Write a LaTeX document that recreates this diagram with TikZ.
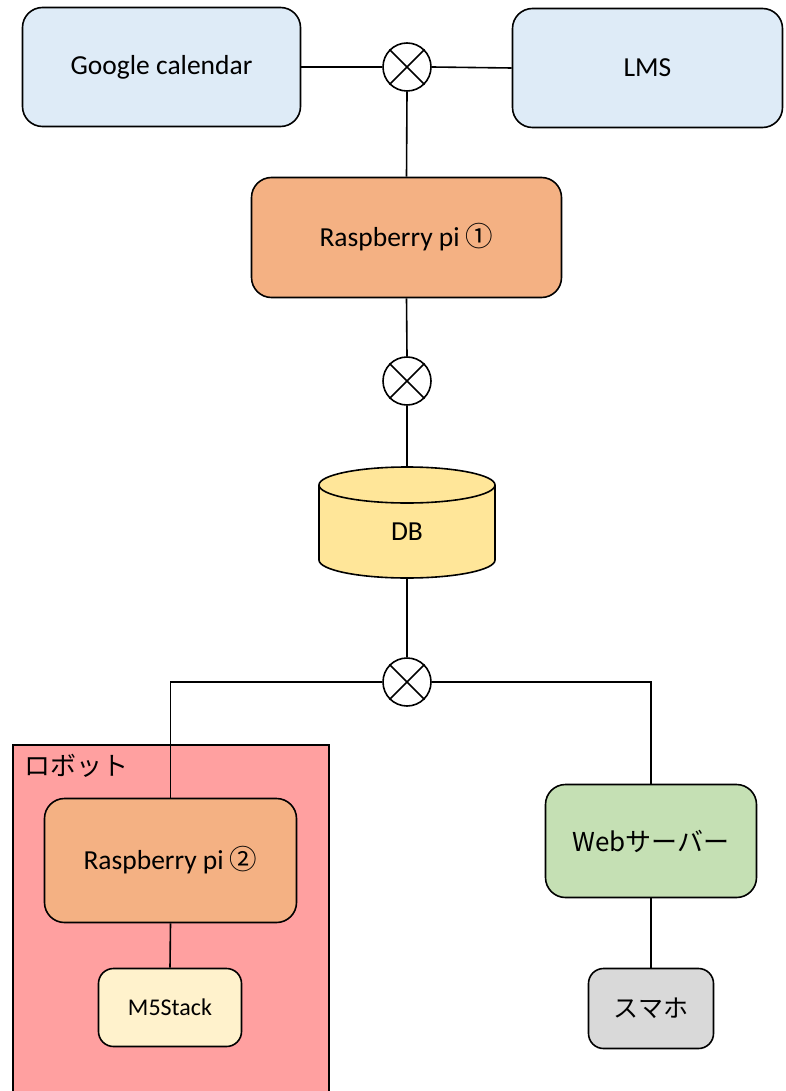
\documentclass[tikz,border=0pt]{standalone}
\usepackage{fontspec}
\setmainfont{Carlito}
\newfontfamily\cjk{Noto Sans CJK JP}
\definecolor{bluec}{HTML}{DEEBF7}
\definecolor{orangec}{HTML}{F4B183}
\definecolor{dbc}{HTML}{FFE699}
\definecolor{robotc}{HTML}{FFA0A0}
\definecolor{greenc}{HTML}{C5E0B4}
\definecolor{m5c}{HTML}{FFF2CC}
\definecolor{grayc}{HTML}{D9D9D9}
\begin{document}
\begin{tikzpicture}[x=1pt,y=-1pt,line width=1.6pt,
  box/.style={draw, rounded corners=20pt, inner sep=0pt, font=\fontsize{27.5}{33}\selectfont},
  smallbox/.style={draw, rounded corners=15pt, inner sep=0pt},
  junc/.style={draw, circle, fill=white, minimum size=48pt, inner sep=0pt},
  txt/.style={inner sep=0pt, font=\fontsize{27.5}{33}\selectfont}]
\useasboundingbox (0,0) rectangle (785,1091);
% robot group
\node[draw, fill=robotc, minimum width=316pt, minimum height=356pt, anchor=north west, inner sep=0pt] (robot) at (12,744) {};
\node[anchor=west, inner sep=0pt, font=\cjk\fontsize{26}{30}\selectfont] (robotlabel) at (24,766) {ロボット};
% boxes
\node[box, fill=bluec, minimum width=278pt, minimum height=119pt] (gc) at (161.5,67) {Google calendar};
\node[box, fill=bluec, minimum width=270pt, minimum height=119pt] (lms) at (647.5,68) {LMS};
\node[box, fill=orangec, minimum width=310pt, minimum height=120pt] (rp1) at (406.5,237.5) {Raspberry pi {\cjk ①}};
\node[box, fill=orangec, minimum width=252pt, minimum height=124pt] (rp2) at (170.5,860.5) {Raspberry pi {\cjk ②}};
\node[smallbox, fill=m5c, minimum width=143pt, minimum height=78pt, font=\fontsize{24}{29}\selectfont] (m5) at (170,1007.5) {M5Stack};
\node[box, fill=greenc, minimum width=211pt, minimum height=113pt, font=\cjk\fontsize{26}{31}\selectfont] (web) at (651,841) {Webサーバー};
\node[smallbox, fill=grayc, minimum width=125pt, minimum height=80pt, font=\cjk\fontsize{25}{30}\selectfont] (sp) at (651,1008.5) {スマホ};
% DB cylinder
\fill[dbc] (319,485) -- (319,560) arc[start angle=180, end angle=0, x radius=88, y radius=18] -- (495,485) arc[start angle=0, end angle=-180, x radius=88, y radius=18] -- cycle;
\draw (319,485) -- (319,560) arc[start angle=180, end angle=0, x radius=88, y radius=18] -- (495,485);
\draw (407,485) ellipse[x radius=88, y radius=18];
\node[inner sep=0pt, minimum width=176pt, minimum height=111pt] (db) at (407,522.5) {};
\node[txt] (dblabel) at (407,532) {DB};
% junctions
\node[junc] (j1) at (407,67) {};
\node[junc] (j2) at (407,381) {};
\node[junc] (j3) at (407,682) {};
\foreach \j in {j1,j2,j3}{
  \draw (\j.north east) -- (\j.south west) (\j.north west) -- (\j.south east);
}
% connectors
\draw (gc.east) -- (j1.west);
\draw (j1.east) -- (lms.west);
\draw (j1.south) -- (rp1.north);
\draw (rp1.south) -- (j2.north);
\draw (j2.south) -- (db.north);
\draw (db.south) -- (j3.north);
\draw (j3.west) -| (rp2.north);
\draw (j3.east) -| (web.north);
\draw (rp2.south) -- (m5.north);
\draw (web.south) -- (sp.north);
\end{tikzpicture}
\end{document}
